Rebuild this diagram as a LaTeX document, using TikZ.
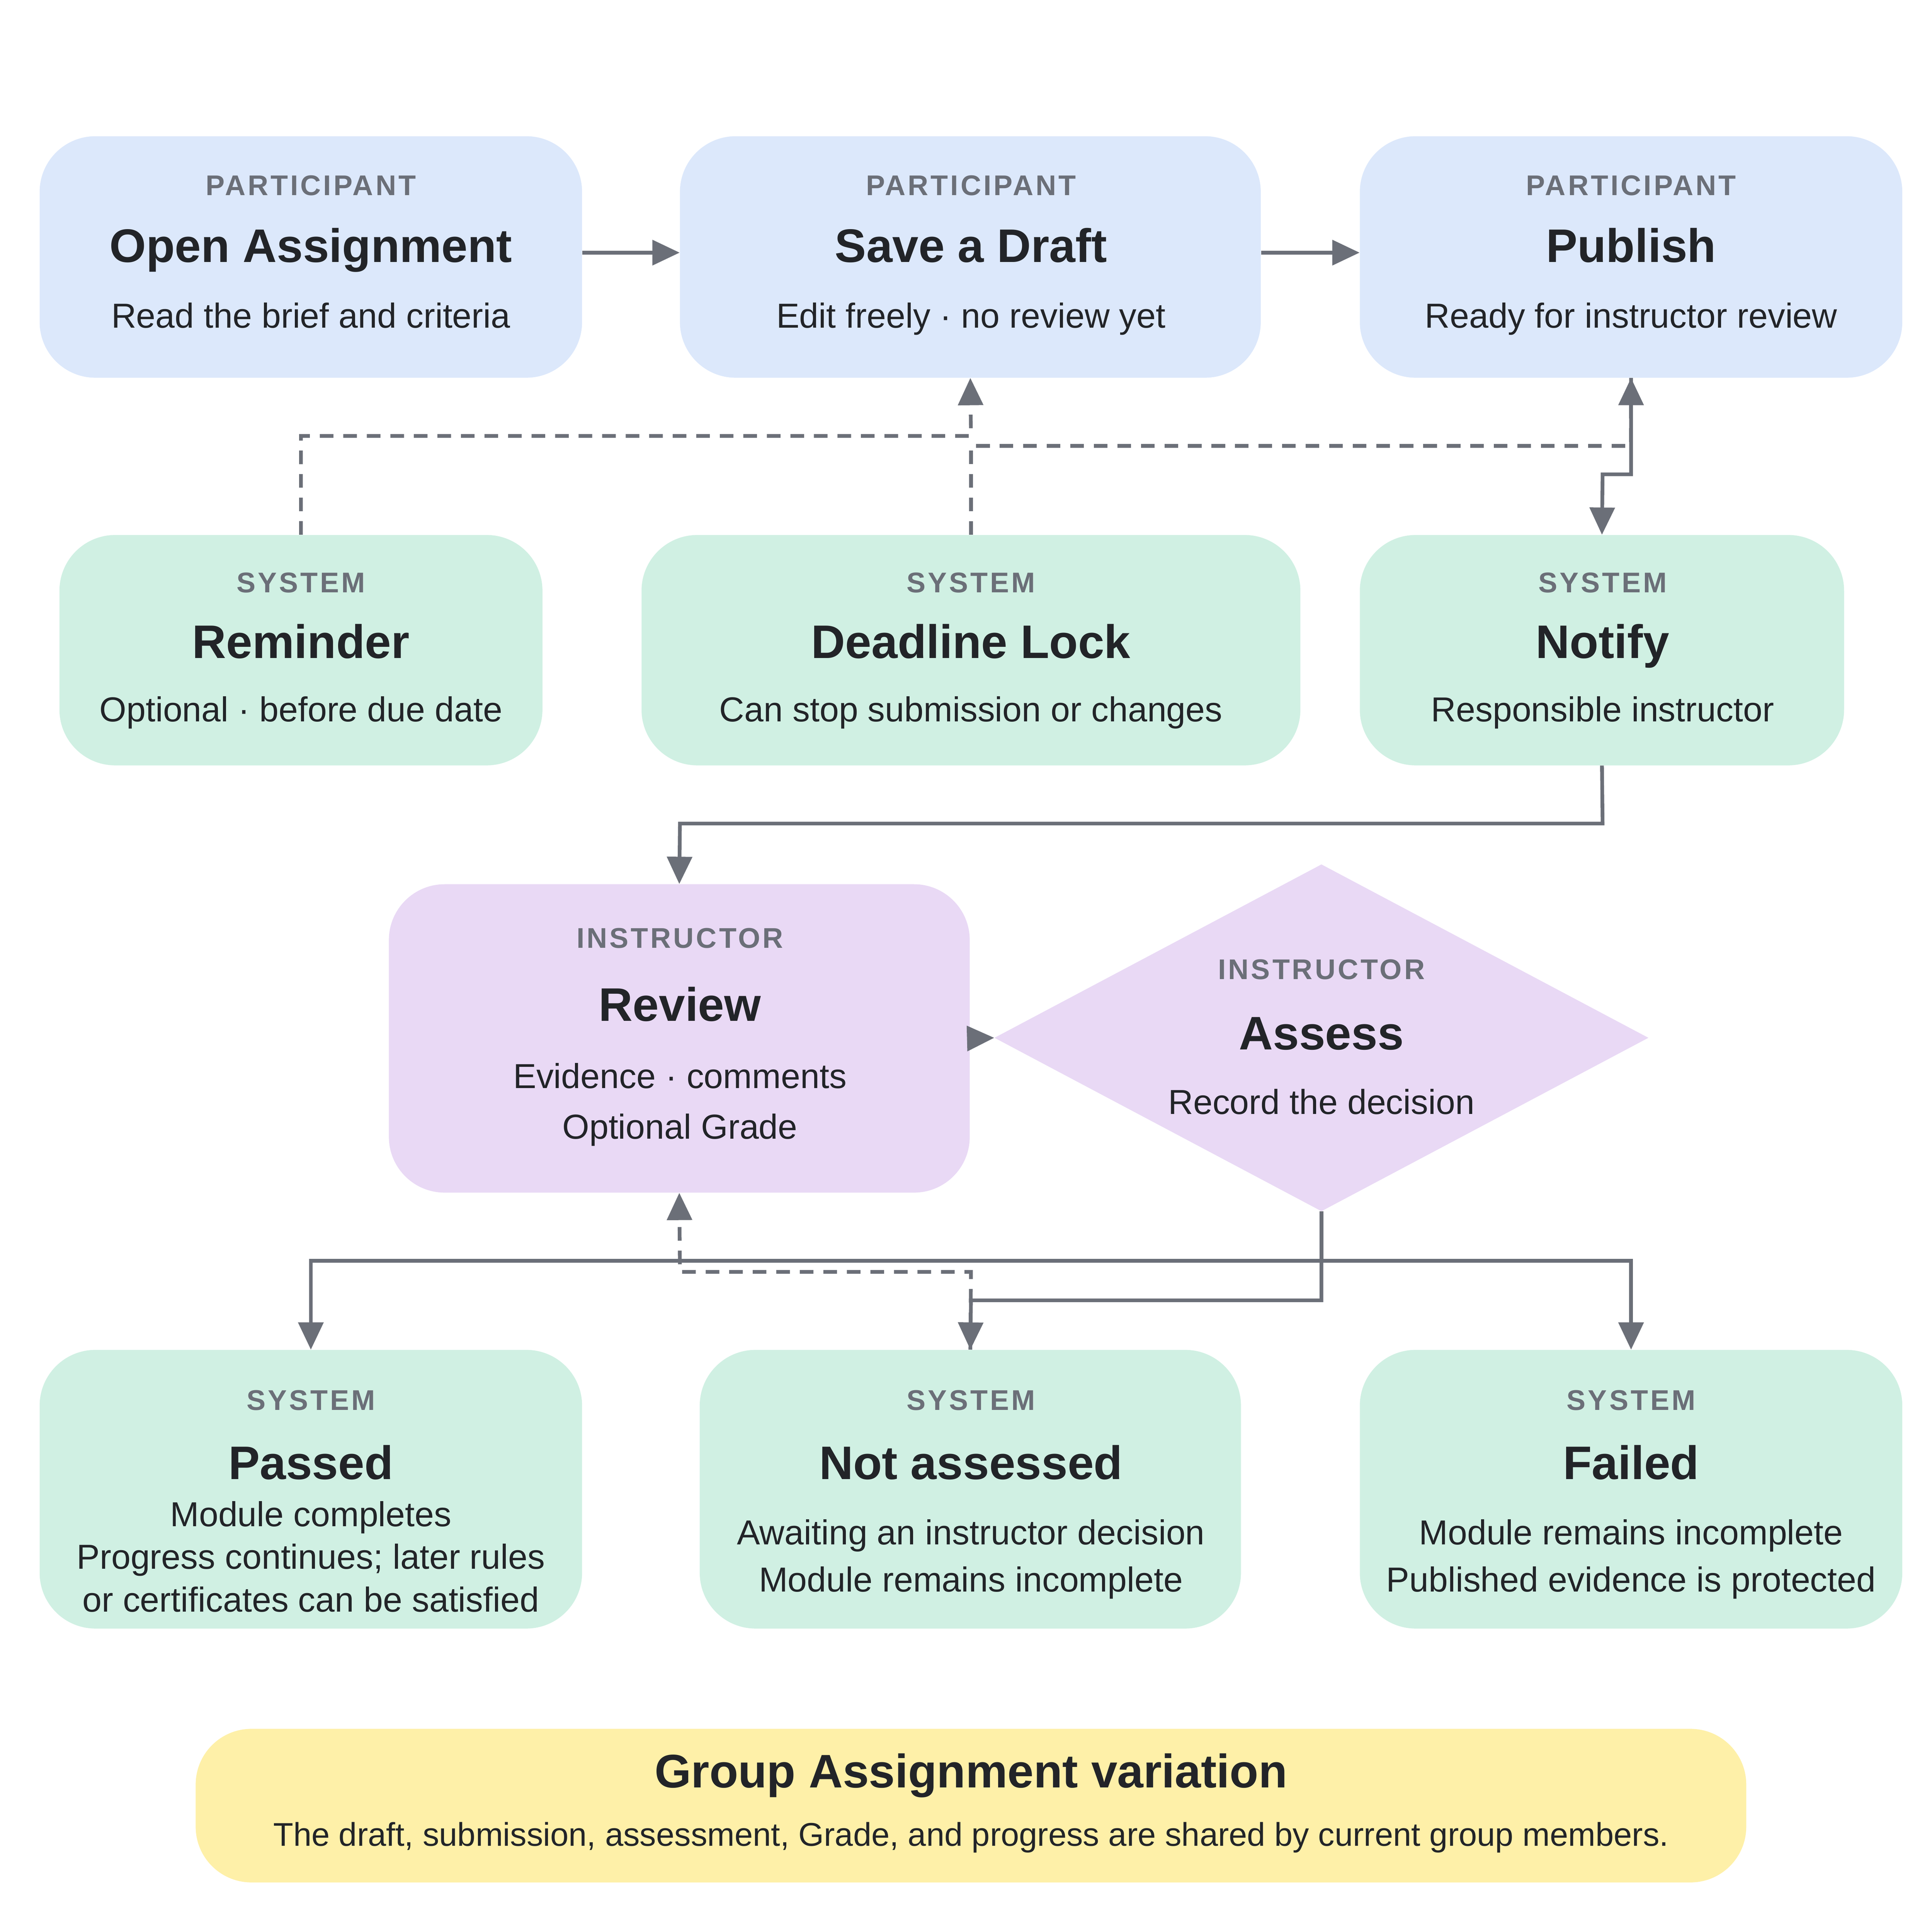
\documentclass[tikz,border=0pt]{standalone}
\usepackage{fontspec}
\setmainfont{Liberation Sans}
\usetikzlibrary{shapes.geometric,arrows.meta}
\definecolor{pblue}{HTML}{DCE8FB}
\definecolor{pgreen}{HTML}{D0F0E3}
\definecolor{ppurp}{HTML}{E9D9F5}
\definecolor{pyel}{HTML}{FEF0A8}
\definecolor{edge}{HTML}{6B6F78}
\definecolor{ink}{HTML}{222428}
\begin{document}
\begin{tikzpicture}[x=1pt,y=-1pt,
  lab/.style={font=\fontsize{23}{26}\selectfont\bfseries\addfontfeatures{LetterSpace=8},text=edge,text height=0.72em,text depth=0pt,yshift=-4pt},
  ttl/.style={font=\fontsize{38}{44}\selectfont\bfseries,text=ink,text height=0.72em,text depth=0.2em,yshift=-8pt},
  sub/.style={font=\fontsize{28}{35}\selectfont,text=ink,align=center},
  sub1/.style={sub,text height=0.72em,text depth=0.2em,yshift=-6pt},
  con/.style={draw=edge,line width=3pt,-{Triangle[length=22pt,width=20pt]}},
  dcon/.style={con,dash pattern=on 11pt off 8pt},
  ln/.style={draw=edge,line width=3pt}]
\useasboundingbox (0,0) rectangle (1560,1544.5);
\def\bx#1#2#3#4#5#6{\fill[#6,rounded corners=45pt] (#2,#3) rectangle (#4,#5); \node[inner sep=0,minimum width=#4-#2,minimum height=#5-#3] (#1) at ({(#2+#4)/2},{(#3+#5)/2}) {};}
\bx{open}{32}{110}{470}{305}{pblue}
\bx{save}{549}{110}{1018}{305}{pblue}
\bx{pub}{1098}{110}{1536}{305}{pblue}
\bx{rem}{48}{432}{438}{618}{pgreen}
\bx{dl}{518}{432}{1050}{618}{pgreen}
\bx{noti}{1098}{432}{1489}{618}{pgreen}
\bx{rev}{314}{714}{783}{963}{ppurp}
\bx{pass}{32}{1090}{470}{1315}{pgreen}
\bx{nota}{565}{1090}{1002}{1315}{pgreen}
\bx{fail}{1098}{1090}{1536}{1315}{pgreen}
\bx{grp}{158}{1396}{1410}{1520}{pyel}
\fill[ppurp] (1067,698) -- (1331,838) -- (1067,978) -- (803,838) -- cycle;
\node[inner sep=0,minimum width=528pt,minimum height=280pt] (ass) at (1067,838) {};
% texts
\node[lab] (t1) at (251,150) {PARTICIPANT};
\node[ttl] (t2) at (251,201) {Open Assignment};
\node[sub1] (t3) at (251,256) {Read the brief and criteria};
\node[lab] (t4) at (784,150) {PARTICIPANT};
\node[ttl] (t5) at (784,201) {Save a Draft};
\node[sub1] (t6) at (784,256) {Edit freely · no review yet};
\node[lab] (t7) at (1317,150) {PARTICIPANT};
\node[ttl] (t8) at (1317,201) {Publish};
\node[sub1] (t9) at (1317,256) {Ready for instructor review};
\node[lab] (s1) at (243,471) {SYSTEM};
\node[ttl] (s2) at (243,521) {Reminder};
\node[sub1] (s3) at (243,574) {Optional · before due date};
\node[lab] (s4) at (784,471) {SYSTEM};
\node[ttl] (s5) at (784,521) {Deadline Lock};
\node[sub1] (s6) at (784,574) {Can stop submission or changes};
\node[lab] (s7) at (1294,471) {SYSTEM};
\node[ttl] (s8) at (1294,521) {Notify};
\node[sub1] (s9) at (1294,574) {Responsible instructor};
\node[lab] (r1) at (549,758) {INSTRUCTOR};
\node[ttl] (r2) at (549,814) {Review};
\node[sub,font=\fontsize{28}{41}\selectfont] (r3) at (549,892) {Evidence · comments\\Optional Grade};
\node[lab] (a1) at (1067,783) {INSTRUCTOR};
\node[ttl] (a2) at (1067,837) {Assess};
\node[sub1] (a3) at (1067,891) {Record the decision};
\node[lab] (p1) at (251,1131) {SYSTEM};
\node[ttl] (p2) at (251,1184) {Passed};
\node[sub,font=\fontsize{28}{34.5}\selectfont] (p3) at (251,1257) {Module completes\\Progress continues; later rules\\or certificates can be satisfied};
\node[lab] (n1) at (784,1131) {SYSTEM};
\node[ttl] (n2) at (784,1184) {Not assessed};
\node[sub,font=\fontsize{28}{38}\selectfont] (n3) at (784,1259) {Awaiting an instructor decision\\Module remains incomplete};
\node[lab] (f1) at (1317,1131) {SYSTEM};
\node[ttl] (f2) at (1317,1184) {Failed};
\node[sub,font=\fontsize{28}{38}\selectfont] (f3) at (1317,1259) {Module remains incomplete\\Published evidence is protected};
\node[ttl] (g1) at (784,1433) {Group Assignment variation};
\node[sub1,font=\fontsize{26.5}{30}\selectfont] (g2) at (784,1482) {The draft, submission, assessment, Grade, and progress are shared by current group members.};
% connectors
\draw[con] (open.east |- 0,204) -- (save.west |- 0,204);
\draw[con] (save.east |- 0,204) -- (pub.west |- 0,204);
\draw[dcon] (rem.north) -- (243,352) -- (784,352) -- (save.south);
\draw[dcon] (dl.north) -- (784,360) -- (1317,360) -- (pub.south);
\draw[con] (pub.south) -- (1317,383) -- (1294,383) -- (noti.north);
\draw[con] (noti.south) -- (1294,665) -- (549,665) -- (rev.north);
\draw[con] (rev.east) -- (ass.west);
\coordinate (sp) at (1067,1018);
\draw[ln] (ass.south) -- (sp);
\draw[con] (sp) -- (251,1018) -- (pass.north);
\draw[con] (sp) -- (1317,1018) -- (fail.north);
\draw[con] (ass.south) -- (1067,1050) -- (784,1050) -- (nota.north);
\draw[dcon] (nota.north) -- (784,1027) -- (549,1027) -- (rev.south);
\end{tikzpicture}
\end{document}
